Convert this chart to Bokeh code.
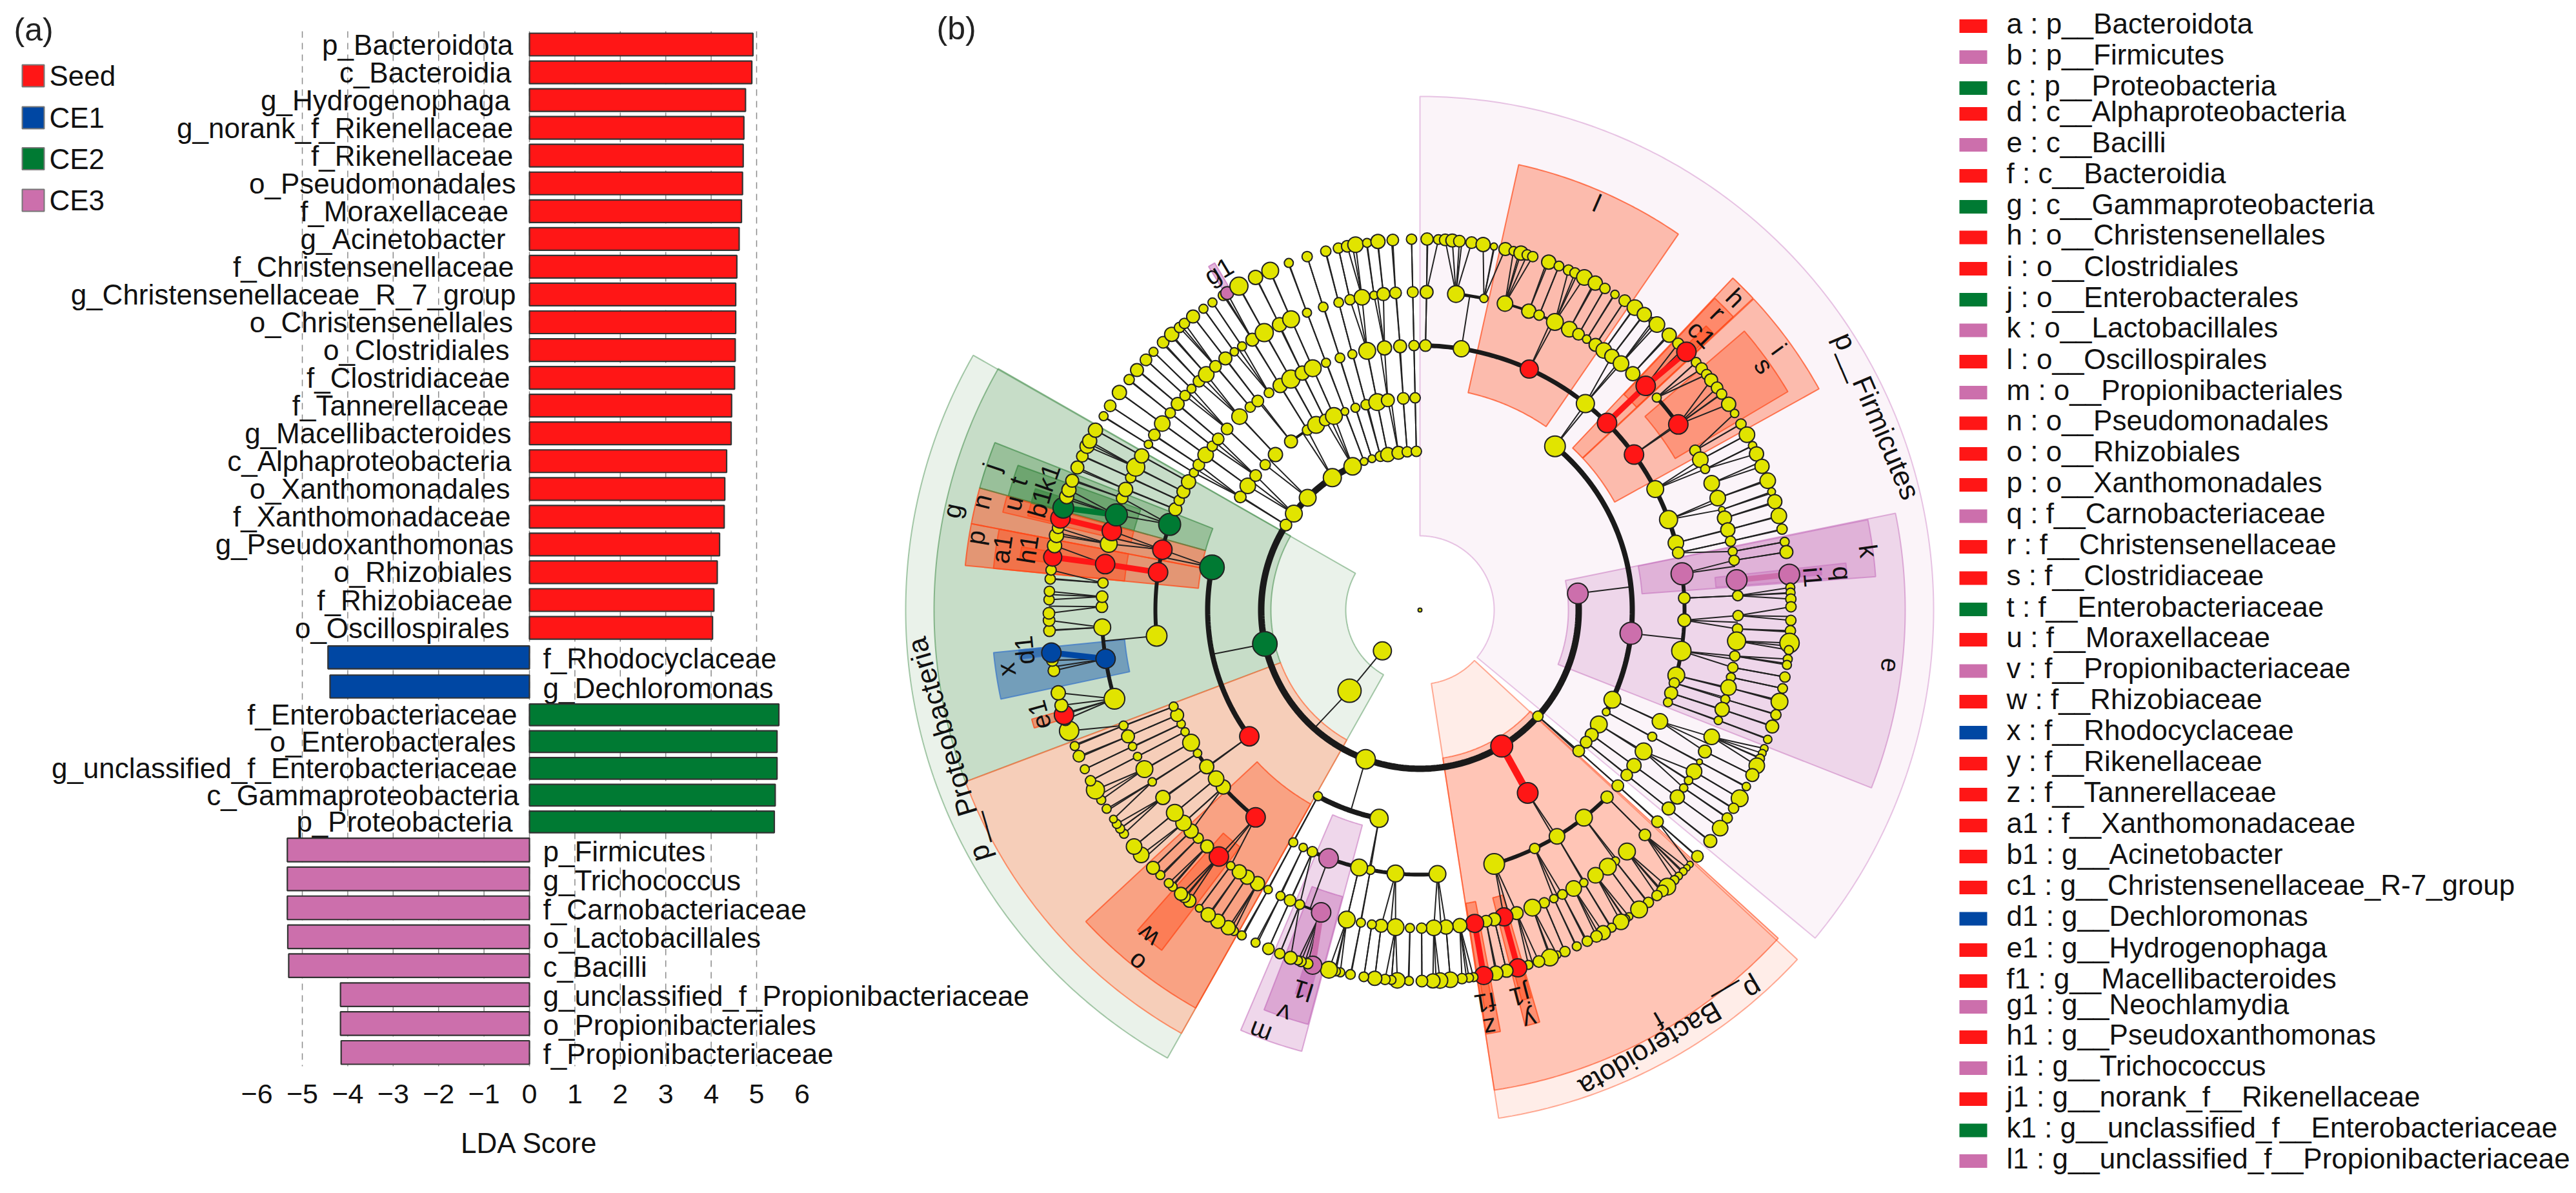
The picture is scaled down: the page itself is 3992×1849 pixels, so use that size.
from math import sin, cos, radians
from bokeh.plotting import figure
from bokeh.layouts import row
from bokeh.embed import file_html
from bokeh.resources import INLINE
from bokeh.core.properties import value
from bokeh.models import Range1d, FixedTicker

# ---------- LDA bar chart data ----------
seed_names = ["p_Bacteroidota","c_Bacteroidia","g_Hydrogenophaga","g_norank_f_Rikenellaceae","f_Rikenellaceae",
              "o_Pseudomonadales","f_Moraxellaceae","g_Acinetobacter","f_Christensenellaceae",
              "g_Christensenellaceae_R_7_group","o_Christensenellales","o_Clostridiales","f_Clostridiaceae",
              "f_Tannerellaceae","g_Macellibacteroides","c_Alphaproteobacteria","o_Xanthomonadales",
              "f_Xanthomonadaceae","g_Pseudoxanthomonas","o_Rhizobiales","f_Rhizobiaceae","o_Oscillospirales"]
seed_scores = [4.92,4.895,4.756,4.72,4.705,4.69,4.667,4.616,4.565,4.54,4.54,4.53,4.515,4.45,4.44,4.34,4.30,4.287,4.185,4.134,4.06,4.03]
ce1_names = ["f_Rhodocyclaceae","g_Dechloromonas"]
ce1_scores = [-4.435,-4.39]
ce2_names = ["f_Enterobacteriaceae","o_Enterobacterales","g_unclassified_f_Enterobacteriaceae","c_Gammaproteobacteria","p_Proteobacteria"]
ce2_scores = [5.49,5.45,5.45,5.41,5.39]
ce3_names = ["p_Firmicutes","g_Trichococcus","f_Carnobacteriaceae","o_Lactobacillales","c_Bacilli",
             "g_unclassified_f_Propionibacteriaceae","o_Propionibacteriales","f_Propionibacteriaceae"]
ce3_scores = [-5.33,-5.33,-5.33,-5.32,-5.30,-4.16,-4.16,-4.145]
tick_values = [-6,-5,-4,-3,-2,-1,0,1,2,3,4,5,6]
tick_labels = ["−6","−5","−4","−3","−2","−1","0","1","2","3","4","5","6"]
groups = ["Seed","CE1","CE2","CE3"]

# ---------- cladogram data: (angle clockwise from top in degrees, node radius) per ring ----------
ring_246 = [(84,16),(132,8),(149,17),(200,15),(257.7,19),(302.4,9),(307.4,13),(315,13),(326.5,14),(334.9,13.5),
            (339.4,6),(342.4,6),(345.6,8),(348.3,11),(352.2,10),(355.4,8),(358.7,8)]
ring_329 = [(39.5,16),(96.3,17),(115,13),(118.7,6),(122.6,13),(126,10),(128.5,9),(131.6,9),(149.5,16),(191.1,14),
            (208.7,7),(233.5,15),(281.6,19),(302.2,9),(305.8,12),(309.3,9),(313.2,8),(317.1,11),(322.6,10),(328,8),
            (330.7,13),(333.5,9),(336.1,13),(339.3,6),(342.3,7),(345.3,8),(348.4,13),(351.3,10),(355.5,9),(358.7,8)]
ring_410 = [(1.2,9),(9,12.5),(24.4,14),(38.7,14),(45,15),(54,15),(62.8,13),(70,14),(75.3,12),(77.5,9),(82.1,17),
            (87.4,9),(92.2,10),(98.9,15),(104.3,13),(106,8),(108.3,10),(110.4,7),(114.9,12),(118.6,7),(122.3,13),
            (126,11),(128.6,9),(131.6,9),(135,9.5),(141.7,13),(148.8,12),(154.3,8),(163.7,16),(176.2,13),(185.3,13),
            (190.8,7),(193.3,13),(200.2,15),(204,8),(206.2,6.5),(208.6,7),(218.4,15),(228,11),(230.4,12),(233.7,11),
            (237.2,6.5),(239.9,13),(242.6,6.5),(244.5,6.5),(246.6,10),(248.6,7),(264.4,16),(278.2,15),(283.2,15),
            (288.9,17),(292.4,10),(294.5,8),(296.6,10),(299,11),(301.3,7),(303.3,9),(305.9,12),(308.3,8),(310.3,9),
            (313.2,9),(317,12),(320.1,8),(322.2,9),(325.2,7.5),(328.1,11),(330.8,14),(333.6,11),(336.1,13),(339.2,7),
            (342.4,7.5),(345.2,7),(348.5,13),(352.3,11),(355.7,10),(358.7,8)]
ring_493 = [(1.2,10),(6.5,13),(11.6,6.5),(15.5,12),(20,11),(22,8),(25.1,13),(28,12),(29.9,9),(31.6,6.5),(33.5,10),
            (35.3,12),(37.1,11),(39.2,12),(42,11),(45.2,15),(48.1,7),(54.3,15),(59.9,8.5),(61.8,12),(63.7,7),(66.5,12),
            (69.4,12),(71.6,5),(73.2,11),(75.4,11),(77.5,8),(79.4,7),(81,8),(84.6,16),(87.4,8),(91,8),(93.4,8),(95.6,14),
            (98.3,8),(100.4,8),(102.2,7),(104.1,12),(106.3,7),(108.2,11),(110.3,6.5),(113.5,12),(116.4,10),(118.5,4.5),
            (120.5,12),(122.4,6.5),(124,6.5),(126,11),(128.6,10),(131.7,9),(135,9),(139.4,13),(142.1,6.5),(143.8,13),
            (146.5,12),(149,6.5),(151.1,12),(153.4,7.5),(155.1,6.5),(157,8),(159.3,13),(162.3,10),(164.7,14),(166.5,10),
            (168,9),(170.1,14),(172.8,11),(175.3,11),(177.5,12),(179.7,8),(181.8,7),(184.4,13),(187,10),(188.7,7),
            (190.7,7),(193.3,13),(198.1,15),(202.2,7.5),(204.1,9),(206,7),(208.5,6.5),(210.7,11),(212.9,11),(214.6,11),
            (216.5,6.5),(219.2,15),(222,10),(224.2,8),(226,11),(228,12),(230.4,13),(233.9,11),(237.3,6.5),(240,13),
            (242.6,6.5),(244.6,6.5),(246.6,10),(248.7,7),(253.8,16),(261.2,15),(266.9,13),(270.6,9),(272.4,9),(274.9,8),
            (278.3,15),(282,13),(284.4,15),(287.4,17),(290.6,9),(292.3,11),(294.6,8),(296.7,14),(299,11),(301.4,6.5),
            (303.4,9),(305.9,12),(308.3,8),(310.4,10),(312.4,8),(314.1,7),(316,9),(317.8,12),(320,9),(322.3,10),
            (324.3,6.5),(326,7),(328.2,10),(330.7,14),(333.8,11),(336.1,13),(339.2,7),(342.3,7.5),(345.2,7.5),(347.3,8),
            (349.5,12),(351.7,6.5),(353.4,10),(355.6,9),(358.7,8.5)]
ring_575 = [(1.1,9.5),(2.85,7.5),(3.9,9),(5,10),(6.1,9),(8,9),(9.8,11),(11.5,5.5),(13.3,10),(14.6,7),(15.8,11),(16.8,8),
            (17.7,8),(20.3,11),(22,7.5),(23.6,8),(24.7,8),(26.3,12),(28.2,11),(29.9,8),(31.7,6.5),(33.5,9),(35.4,12),
            (37.2,11),(38.8,5.5),(39.7,12),(42.2,11),(44.1,8.5),(45.9,15),(48.1,7.5),(49.4,9),(50.6,8),(51.7,10),(53.2,9),
            (54.4,8),(56.3,11),(58,6.5),(59.9,8),(61.8,12),(63.7,6.5),(65.1,11),(67.2,11),(69.6,12),(71.4,6),(73,11),
            (75.3,12),(77.4,8),(79.4,7),(81,10),(84.5,16),(86.5,7),(87.3,7),(88.3,8),(89.5,8),(91.6,8),(93.2,8),(95.1,15),
            (96.2,7),(97.6,7),(98.5,7),(100.4,8),(102.2,7.5),(104.3,13),(106.4,8),(108.3,10),(110.4,6.5),(111.9,6),
            (112.7,6),(113.6,7),(114.8,12),(116.4,10),(118.4,6.5),(120.5,13),(122.3,8),(124.1,8),(126,12),(128.5,10),
            (131.6,9),(133.3,5),(134,5),(134.8,6),(135.8,6),(136.7,7),(138.2,13),(139.2,9),(140.3,8),(142,8),(143.8,13),
            (145.7,6),(146.4,7),(147.2,12),(148.9,7),(150.4,11),(151.6,9),(153.2,8),(155,7),(157,8),(158.3,6),(159.5,13),
            (161.3,9),(163,7),(164.7,14),(166.5,10),(168.2,11),(170.1,14),(171.7,7),(172.4,7),(173.5,8),(175.3,12),
            (176.9,12),(178,11),(179.7,9),(181.7,7),(183.5,12),(184.4,7),(185.4,8),(187,11),(188.7,7.5),(190.8,7.5),
            (192.4,7),(193.1,7),(194.2,13),(196.8,14),(197.6,8),(198.7,8),(199.2,7),(200.4,10),(202.2,8),(204.1,9),
            (206.3,7),(208.7,7),(210.1,7),(211.1,11),(213,11),(214.8,11),(216.5,6),(218.4,10),(219.4,9),(220.1,10),
            (221.8,7),(222.6,7),(224.4,7),(226,10),(228.7,12),(230.4,12),(232.9,7),(233.9,7),(234.8,7),(235.7,6),(237.6,7),
            (239.2,7),(241,14),(242.6,8),(244.6,7),(246.8,9),(248.5,7),(251,15),(252.8,9),(253.6,15),(255.1,10),(257.1,11),
            (260.6,9),(262.2,9),(263.4,15),(266.8,9),(268.4,9),(269.5,9),(271.6,8),(272.9,8),(274.8,8),(276.2,8),(278.2,14),
            (280,11),(281.6,11),(282.8,9),(284.3,15),(286,16),(287.8,11),(288.9,11),(290.4,10),(292.6,10),(294.5,9),
            (296.2,11),(297.1,11),(299,11),(301.5,7),(303.4,9),(305.9,11),(308.4,8),(310.3,10),(312.4,9),(314.1,7),
            (316.2,9),(318,11),(319.6,8),(320.6,8),(322.3,10),(324.3,7),(326,7),(328,8),(328.7,10),(330.8,14),(333.7,11),
            (336.2,13),(339.3,7),(342.3,8),(345.3,8),(347.3,8),(348.7,9),(350,12),(351.8,7),(353.5,11),(355.8,9),(358.7,8)]
# nodes enriched in a group: ring -> {angle: group}
enriched = {
    246: {84:"CE3",149:"Seed",257.7:"CE2"},
    329: {96.3:"CE3",149.5:"Seed",233.5:"Seed",281.6:"CE2"},
    410: {24.4:"Seed",45:"Seed",54:"Seed",82.1:"CE3",200.2:"CE3",218.4:"Seed",278.2:"Seed",283.2:"Seed",288.9:"CE2"},
    493: {45.2:"Seed",54.3:"Seed",84.6:"CE3",164.7:"Seed",170.1:"Seed",198.1:"CE3",219.2:"Seed",261.2:"CE1",278.3:"Seed",284.4:"Seed",287.4:"CE2"},
    575: {45.9:"Seed",84.5:"CE3",164.7:"Seed",170.1:"Seed",196.8:"CE3",253.6:"Seed",263.4:"CE1",278.2:"Seed",284.3:"Seed",286:"CE2",328.7:"CE3"},
}
# thick arcs: ring, from angle, to angle, width
arcs = [(246,84,334.9,10),(329,39.5,118.7,8),(329,191.1,208.7,8),(329,233.5,281.6,8),(329,322.6,328,4),
        (410,1.2,77.5,7),(410,82.1,110.4,6),(410,135,163.7,6),(410,176.2,204,6),(410,218.4,248.6,6),(410,264.4,288.9,6),
        (493,6.5,11.6,5),(493,15.5,25.1,4),(493,48.1,54.3,6),(493,198.1,206,4),(493,253.8,266.9,6)]
# thick branches coloured by group: inner ring, outer ring, inner angle, outer angle, group
branches = [(246,329,149,149.5,"Seed"),(410,493,45,45.2,"Seed"),(493,575,45.2,45.9,"Seed"),(493,575,84.6,84.5,"CE3"),
            (493,575,198.1,196.8,"CE3"),(493,575,164.7,164.7,"Seed"),(493,575,170.1,170.1,"Seed"),(493,575,261.2,263.4,"CE1"),
            (493,575,287.4,286,"CE2"),(493,575,284.4,284.3,"Seed"),(410,493,278.2,278.3,"Seed"),(493,575,278.3,278.2,"Seed")]
stems = [(246,84,329,83.7),(246,200,329,199),(246,257.7,329,258),(246,132,329,131.6)]
# shaded clades: from angle, to angle, inner r, outer r, group, opacity, letter, letter angle, letter r
clades = [
 (0,129.7,115,796,"CE3",.07,None,0,0),(132.8,171.2,115,797,"Seed",.10,None,0,0),(209.4,299.7,115,797,"CE2",.10,None,0,0),
 (132.5,171.2,232,753,"Seed",.25,"f",149.8,736),(78.5,111.5,230,752,"CE3",.20,"e",96.7,734),
 (249.3,299.8,231,753,"CE2",.18,"g",282,741),(209.4,249.3,231,753,"Peach",.55,"d",0,0),
 (12.5,34.5,345,707,"Seed",.35,"l",23.5,688),(43.3,46.9,345,707,"Seed",.42,"h",45.3,688),(47,61,345,707,"Seed",.35,"i",54,688),
 (78.6,85.8,345,708,"CE3",.30,"k",82.5,701),(195,203.1,345,708,"CE3",.25,"m",200.7,700),(280.9,285.5,345,708,"Seed",.50,"n",283.9,700),
 (209.4,227,345,708,"Seed",.35,"o",218.8,701),(275.6,280.9,345,708,"Seed",.50,"p",279.3,698),(285.5,291.5,345,708,"CE2",.30,"j",288.5,700),
 (83.7,85.6,460,664,"CE3",.30,"q",85,657),(43.4,46.9,460,665,"Seed",.40,"r",45.1,652),(49.3,59.3,460,663,"Seed",.35,"s",54.6,654),
 (285.4,289.8,460,662,"CE2",.40,"t",287.8,654),(283.2,285.4,460,664,"Seed",.40,"u",284.7,652),(195.1,201.3,460,665,"CE3",.40,"v",198.7,660),
 (217.2,221.4,461,662,"Seed",.45,"w",219.8,658),(258,264.3,460,664,"CE1",.42,"x",261.8,648),(163.8,165.8,460,665,"Seed",.45,"y",165,658),
 (169.2,171.1,460,665,"Seed",.45,"z",170.5,656),(275.6,280.9,460,664,"Seed",.50,"a1",278.3,655),
 (283.5,285.4,575,625,"Seed",.50,"b1",285.7,612),(45.2,46.6,575,625,"Seed",.60,"c1",45.6,611),(263,264.3,575,625,"CE1",.50,"d1",264.2,616),
 (253,254.3,575,625,"Seed",.50,"e1",254.6,612),(169.6,170.8,575,625,"Seed",.50,"f1",170.6,617),(328.4,329.4,575,625,"CE3",.45,"g1",329.3,611),
 (277.3,279,575,625,"Seed",.50,"h1",278.8,615),(84,85,575,625,"CE3",.50,"i1",85.2,611),(164,165.4,575,625,"Seed",.50,"j1",165.5,618),
 (285.4,287.5,575,625,"CE2",.50,"k1",289.6,612),(196,198,575,625,"CE3",.55,"l1",197.1,617),
]
phylum_labels = [("p__Firmicutes",67,770),("p__Bacteroidota",149.6,768),("p__Proteobacteria",253.5,762)]
legend_text = ["a : p__Bacteroidota","b : p__Firmicutes","c : p__Proteobacteria","d : c__Alphaproteobacteria","e : c__Bacilli",
 "f : c__Bacteroidia","g : c__Gammaproteobacteria","h : o__Christensenellales","i : o__Clostridiales","j : o__Enterobacterales",
 "k : o__Lactobacillales","l : o__Oscillospirales","m : o__Propionibacteriales","n : o__Pseudomonadales","o : o__Rhizobiales",
 "p : o__Xanthomonadales","q : f__Carnobacteriaceae","r : f__Christensenellaceae","s : f__Clostridiaceae","t : f__Enterobacteriaceae",
 "u : f__Moraxellaceae","v : f__Propionibacteriaceae","w : f__Rhizobiaceae","x : f__Rhodocyclaceae","y : f__Rikenellaceae",
 "z : f__Tannerellaceae","a1 : f__Xanthomonadaceae","b1 : g__Acinetobacter","c1 : g__Christensenellaceae_R-7_group","d1 : g__Dechloromonas",
 "e1 : g__Hydrogenophaga","f1 : g__Macellibacteroides","g1 : g__Neochlamydia","h1 : g__Pseudoxanthomonas","i1 : g__Trichococcus",
 "j1 : g__norank_f__Rikenellaceae","k1 : g__unclassified_f__Enterobacteriaceae","l1 : g__unclassified_f__Propionibacteriaceae"]
legend_group = ["Seed","CE3","CE2","Seed","CE3","Seed","CE2","Seed","Seed","CE2","CE3","Seed","CE3","Seed","Seed","Seed","CE3","Seed","Seed","CE2",
 "Seed","CE3","Seed","CE1","Seed","Seed","Seed","Seed","Seed","CE1","Seed","Seed","CE3","Seed","CE3","Seed","CE2","CE3"]

# ---------- styles / layout ----------
FONT = value("Liberation Sans")
COL = {"Seed":"#FF1616","CE1":"#0047A3","CE2":"#007A33","CE3":"#CC6FAC"}
SHADE = {"Seed":"#FF5020","CE1":"#0047A8","CE2":"#2E7D32","CE3":"#C060B0","Peach":"#FFB090"}
EDGE = {"Seed":"#FF4A1A","CE1":"#3C78C8","CE2":"#3E8A46","CE3":"#C878C0","Peach":"#FF7040"}
YEL = "#E1E400"; INK = "#222222"
ZERO_PX, UNIT = 820, 70.4
def lx(px): return (px-ZERO_PX)/UNIT
seed_right = [794.6,792,790,794.6,794.6,799,787.5,783,796,799,794.6,789,790,787.5,792,792,790,791,795.5,793,794,789]
ce2_right = [801,799,801,804,794]
rows = [("Seed",seed_names,seed_scores,68.5,43.05,35),("CE1",ce1_names,ce1_scores,1018.3,45.2,35.5),
        ("CE2",ce2_names,ce2_scores,1107.3,41.5,33.5),("CE3",ce3_names,ce3_scores,1316.8,44.85,36.5)]

# ---------- panel (a) ----------
a = figure(width=1640, height=1833, x_range=Range1d(lx(0),lx(1640)), y_range=Range1d(1672,0), output_backend="svg",
           toolbar_location=None, y_axis_location=None, min_border_left=0, min_border_right=0, min_border_top=0, min_border_bottom=161,
           x_axis_label="LDA Score", background_fill_color=None, border_fill_color=None, frame_align=False)
a.outline_line_color=None
a.grid.visible=False
grid_ticks=[t for t in tick_values if abs(t)<=5]
a.segment(x0=grid_ticks,y0=[48]*len(grid_ticks),x1=grid_ticks,y1=[1652]*len(grid_ticks),line_color="#8a8a8a",line_dash="10 8",line_width=1.5)
ax=a.xaxis[0]
ax.ticker=FixedTicker(ticks=tick_values)
ax.major_label_overrides=dict(zip(tick_values,tick_labels))
ax.axis_line_color=None; ax.major_tick_line_color=None; ax.minor_tick_line_color=None
ax.major_label_text_font="Liberation Sans"; ax.major_label_text_font_size="43px"; ax.major_label_text_color="#111111"
ax.axis_label_text_font="Liberation Sans"; ax.axis_label_text_font_size="44px"; ax.axis_label_text_font_style="normal"; ax.axis_label_text_color="#111111"
ax.major_label_standoff=2; ax.axis_label_standoff=34
for g,names,scores,y0,pitch,h in rows:
    ys=[y0+i*pitch for i in range(len(names))]
    a.hbar(y=ys,left=0,right=scores,height=h,fill_color=COL[g],line_color="#333333",line_width=2.2)
    if g=="Seed":
        a.text(x=[lx(v) for v in seed_right],y=ys,text=names,text_font=FONT,text_font_size="44px",text_align="right",text_baseline="middle",text_color="#111111")
    elif g=="CE2":
        a.text(x=[lx(v) for v in ce2_right],y=ys,text=names,text_font=FONT,text_font_size="44px",text_align="right",text_baseline="middle",text_color="#111111")
    else:
        a.text(x=[lx(841)]*len(names),y=[v+2 for v in ys],text=names,text_font=FONT,text_font_size="44px",text_align="left",text_baseline="middle",text_color="#111111")
lg_y=[117,182,245.5,310]
a.quad(left=[lx(34)]*4,right=[lx(68)]*4,top=[v-17 for v in lg_y],bottom=[v+17 for v in lg_y],fill_color=[COL[g] for g in groups],line_color="#777777",line_width=2)
a.text(x=[lx(76)]*4,y=lg_y,text=groups,text_font=FONT,text_font_size="44px",text_baseline="middle",text_color="#111111")
a.text(x=[lx(21)],y=[45],text=["(a)"],text_font=FONT,text_font_size="50px",text_baseline="middle",text_color="#222222")

# ---------- panel (b) + legend ----------
b = figure(width=2704, height=1833, x_range=Range1d(1280,3984), y_range=Range1d(1833,0), output_backend="svg", toolbar_location=None,
           x_axis_location=None, y_axis_location=None, min_border=0, background_fill_color=None, border_fill_color=None,
           margin=(0,0,0,-360), frame_align=False)
b.outline_line_color=None; b.grid.visible=False
CX,CY=2200,945
def pol(th,r):
    t=radians(th); return CX+r*sin(t), CY-r*cos(t)
def sector(t0,t1,r0,r1):
    n=max(2,int((t1-t0)/0.5)+1); ts=[t0+(t1-t0)*i/(n-1) for i in range(n)]
    out=[pol(t,r1) for t in ts]; inn=[pol(t,r0) for t in reversed(ts)]
    pts=out+inn
    return [p[0] for p in pts],[p[1] for p in pts]
for t0,t1,r0,r1,g,al,_l,_a,_r in clades:
    xs,ys=sector(t0,t1,r0,r1)
    b.patch(xs,ys,fill_color=SHADE[g],fill_alpha=al,line_color=EDGE[g],line_alpha=min(.75,al+.35),line_width=2)
rings={246:ring_246,329:ring_329,410:ring_410,493:ring_493,575:ring_575}
order=[246,329,410,493,575]
lx_,ly_=[],[]
def link(r0,t0,r1,t1):
    p,q=pol(t0,r0),pol(t1,r1); lx_.append([p[0],q[0]]); ly_.append([p[1],q[1]])
for inner,outer in zip(order,order[1:]):
    ia=[n[0] for n in rings[inner]]; oa=[n[0] for n in rings[outer]]
    thr=5 if outer==575 else 2
    for t,_ in rings[outer]:
        n=min(ia,key=lambda v:abs(v-t))
        if abs(n-t)<=thr: link(inner,n,outer,t)
    for t in ia:
        n=min(oa,key=lambda v:abs(v-t))
        if abs(n-t)<=3: link(inner,t,outer,t)
for r0,t0,r1,t1 in stems: link(r0,t0,r1,t1)
link(86,222.6,166,221.1); link(166,221.1,246,221.8)
b.multi_line(lx_,ly_,line_color=INK,line_width=2)
for r,t0,t1,w in arcs:
    n=int(t1-t0)+2; pts=[pol(t0+(t1-t0)*i/(n-1),r) for i in range(n)]
    b.line([p[0] for p in pts],[p[1] for p in pts],line_color="#1a1a1a",line_width=w)
for r0,r1,t0,t1,g in branches:
    p,q=pol(t0,r0),pol(t1,r1)
    b.line([p[0],q[0]],[p[1],q[1]],line_color=COL[g],line_width=11 if r0==246 else 9)
nx,ny,ns,nc=[],[],[],[]
for r in order:
    for t,rad in rings[r]:
        p=pol(t,r); nx.append(p[0]); ny.append(p[1]); ns.append(2*rad)
        g=enriched[r].get(t); nc.append(COL[g] if g else YEL)
for r,t,rad in [(86,222.6,14),(166,221.1,18),(0,0,3)]:
    p=pol(t,r); nx.append(p[0]); ny.append(p[1]); ns.append(2*rad); nc.append(YEL)
b.scatter(nx,ny,size=ns,marker="circle",fill_color=nc,line_color=INK,line_width=2)
# clade letters
for *_x,l,ta,ra in clades:
    if l and ra:
        p=pol(ta,ra)
        b.text([p[0]],[p[1]],text=[l],angle=[-radians(ta)],text_font=FONT,text_font_size="40px",text_align="center",text_baseline="middle",text_color="#111111")
for s,ta,ra in phylum_labels:
    p=pol(ta,ra)
    b.text([p[0]],[p[1]],text=[s],angle=[-radians(ta)],text_font=FONT,text_font_size="44px",text_align="center",text_baseline="middle",text_color="#111111")
b.text([1451],[43],text=["(b)"],text_font=FONT,text_font_size="50px",text_baseline="middle",text_color="#222222")
# key
key_y=[40,88,136,176,224,272,320,367.5,416,464,511.5,560,608,655.5,703,751,799.5,847,895.6,944,991,1039.5,1087,1135,1183,1231,1279,1327,1375,1423.5,1472,1520,1560,1607,1655,1703,1751.5,1799]
b.quad(left=[3036]*38,right=[3079]*38,top=[v-10.5 for v in key_y],bottom=[v+10.5 for v in key_y],fill_color=[COL[g] for g in legend_group],line_color=None)
b.text(x=[3109]*38,y=[v-4.5 for v in key_y],text=legend_text,text_font=FONT,text_font_size="44px",text_baseline="middle",text_color="#111111")

open("out.html","w").write(file_html(row(a,b),INLINE))
